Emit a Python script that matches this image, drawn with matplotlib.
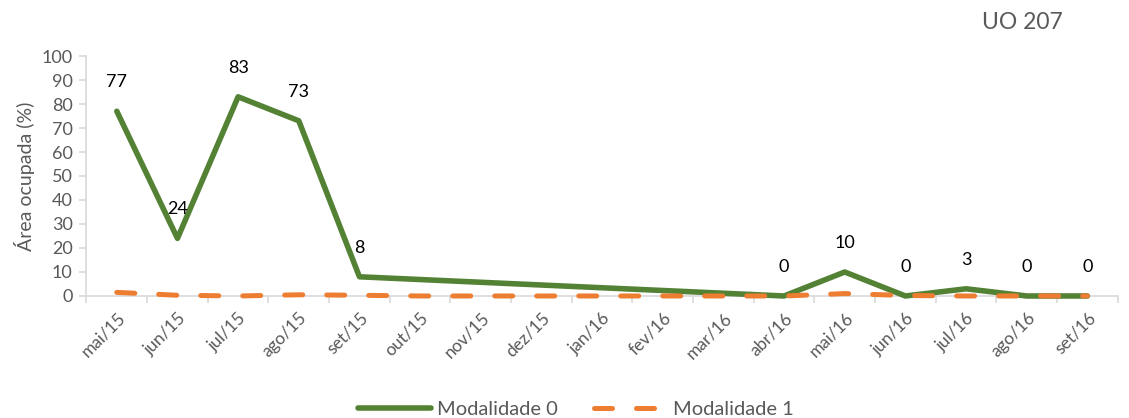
import numpy as np
import matplotlib
matplotlib.use("Agg")
import matplotlib.pyplot as plt

plt.rcParams['font.family'] = ['Lato', 'DejaVu Sans']

meses = ['mai/15', 'jun/15', 'jul/15', 'ago/15', 'set/15', 'out/15', 'nov/15',
         'dez/15', 'jan/16', 'fev/16', 'mar/16', 'abr/16', 'mai/16', 'jun/16',
         'jul/16', 'ago/16', 'set/16']
# months without a reading for modalidade 0 are left as NaN and bridged by the line
mod0 = [77, 24, 83, 73, 8, np.nan, np.nan, np.nan, np.nan, np.nan, np.nan,
        0, 10, 0, 3, 0, 0]
mod1 = [1.5, 0.3, 0, 0.5, 0.3, 0, 0, 0, 0, 0, 0, 0, 1, 0.2, 0, 0, 0]

verde = '#548235'
laranja = '#ED7D31'
cinza = '#595959'
eixo = '#D9D9D9'

fig = plt.figure(figsize=(11.29, 4.18), dpi=100)
ax = fig.add_axes([0.0766, 0.2919, 0.9134, 0.5741])

x = np.arange(len(meses))
y0 = np.array(mod0, dtype=float)
ok = ~np.isnan(y0)

ax.plot(x[ok], y0[ok], color=verde, lw=4, solid_capstyle='round',
        solid_joinstyle='round', label='Modalidade 0', zorder=3, clip_on=False)
ax.plot(x, mod1, color=laranja, lw=3.6, dashes=(3.6, 4.8),
        dash_capstyle='round', label='Modalidade 1', zorder=4, clip_on=False)

for xi, yi in zip(x[ok], y0[ok]):
    ax.annotate(f'{yi:.0f}', (xi, yi), xytext=(0, 21), textcoords='offset points',
                ha='center', va='center', fontsize=13, color='black')

ax.set_xlim(-0.5, len(meses) - 0.5)
ax.set_ylim(0, 100)
ax.set_yticks(range(0, 101, 10))
ax.set_xticks(x)
ax.set_xticklabels(meses, rotation=45, ha='right', rotation_mode='anchor')
ax.set_xticks(np.arange(-0.5, len(meses), 1), minor=True)
ax.tick_params(axis='x', which='major', length=0, pad=10, labelsize=12.5,
               labelcolor=cinza)
ax.tick_params(axis='x', which='minor', length=5, color=eixo, width=1.2)
ax.tick_params(axis='y', length=5, color=eixo, width=1.2, labelsize=13,
               labelcolor=cinza, pad=5)

for s in ['top', 'right']:
    ax.spines[s].set_visible(False)
for s in ['left', 'bottom']:
    ax.spines[s].set_color(eixo)
    ax.spines[s].set_linewidth(1.2)
    ax.spines[s].set_zorder(1)

ax.set_ylabel('Área ocupada (%)', fontsize=14, color=cinza, labelpad=5)

fig.text(0.906, 0.945, 'UO 207', fontsize=16.5, color=cinza, ha='center', va='center')

fig.legend(loc='center', bbox_to_anchor=(0.51, 0.02), ncol=2, frameon=False,
           fontsize=14.5, labelcolor=cinza, handlelength=3.6, columnspacing=1.8,
           handletextpad=0.3)

fig.savefig('out.png', dpi=100)
